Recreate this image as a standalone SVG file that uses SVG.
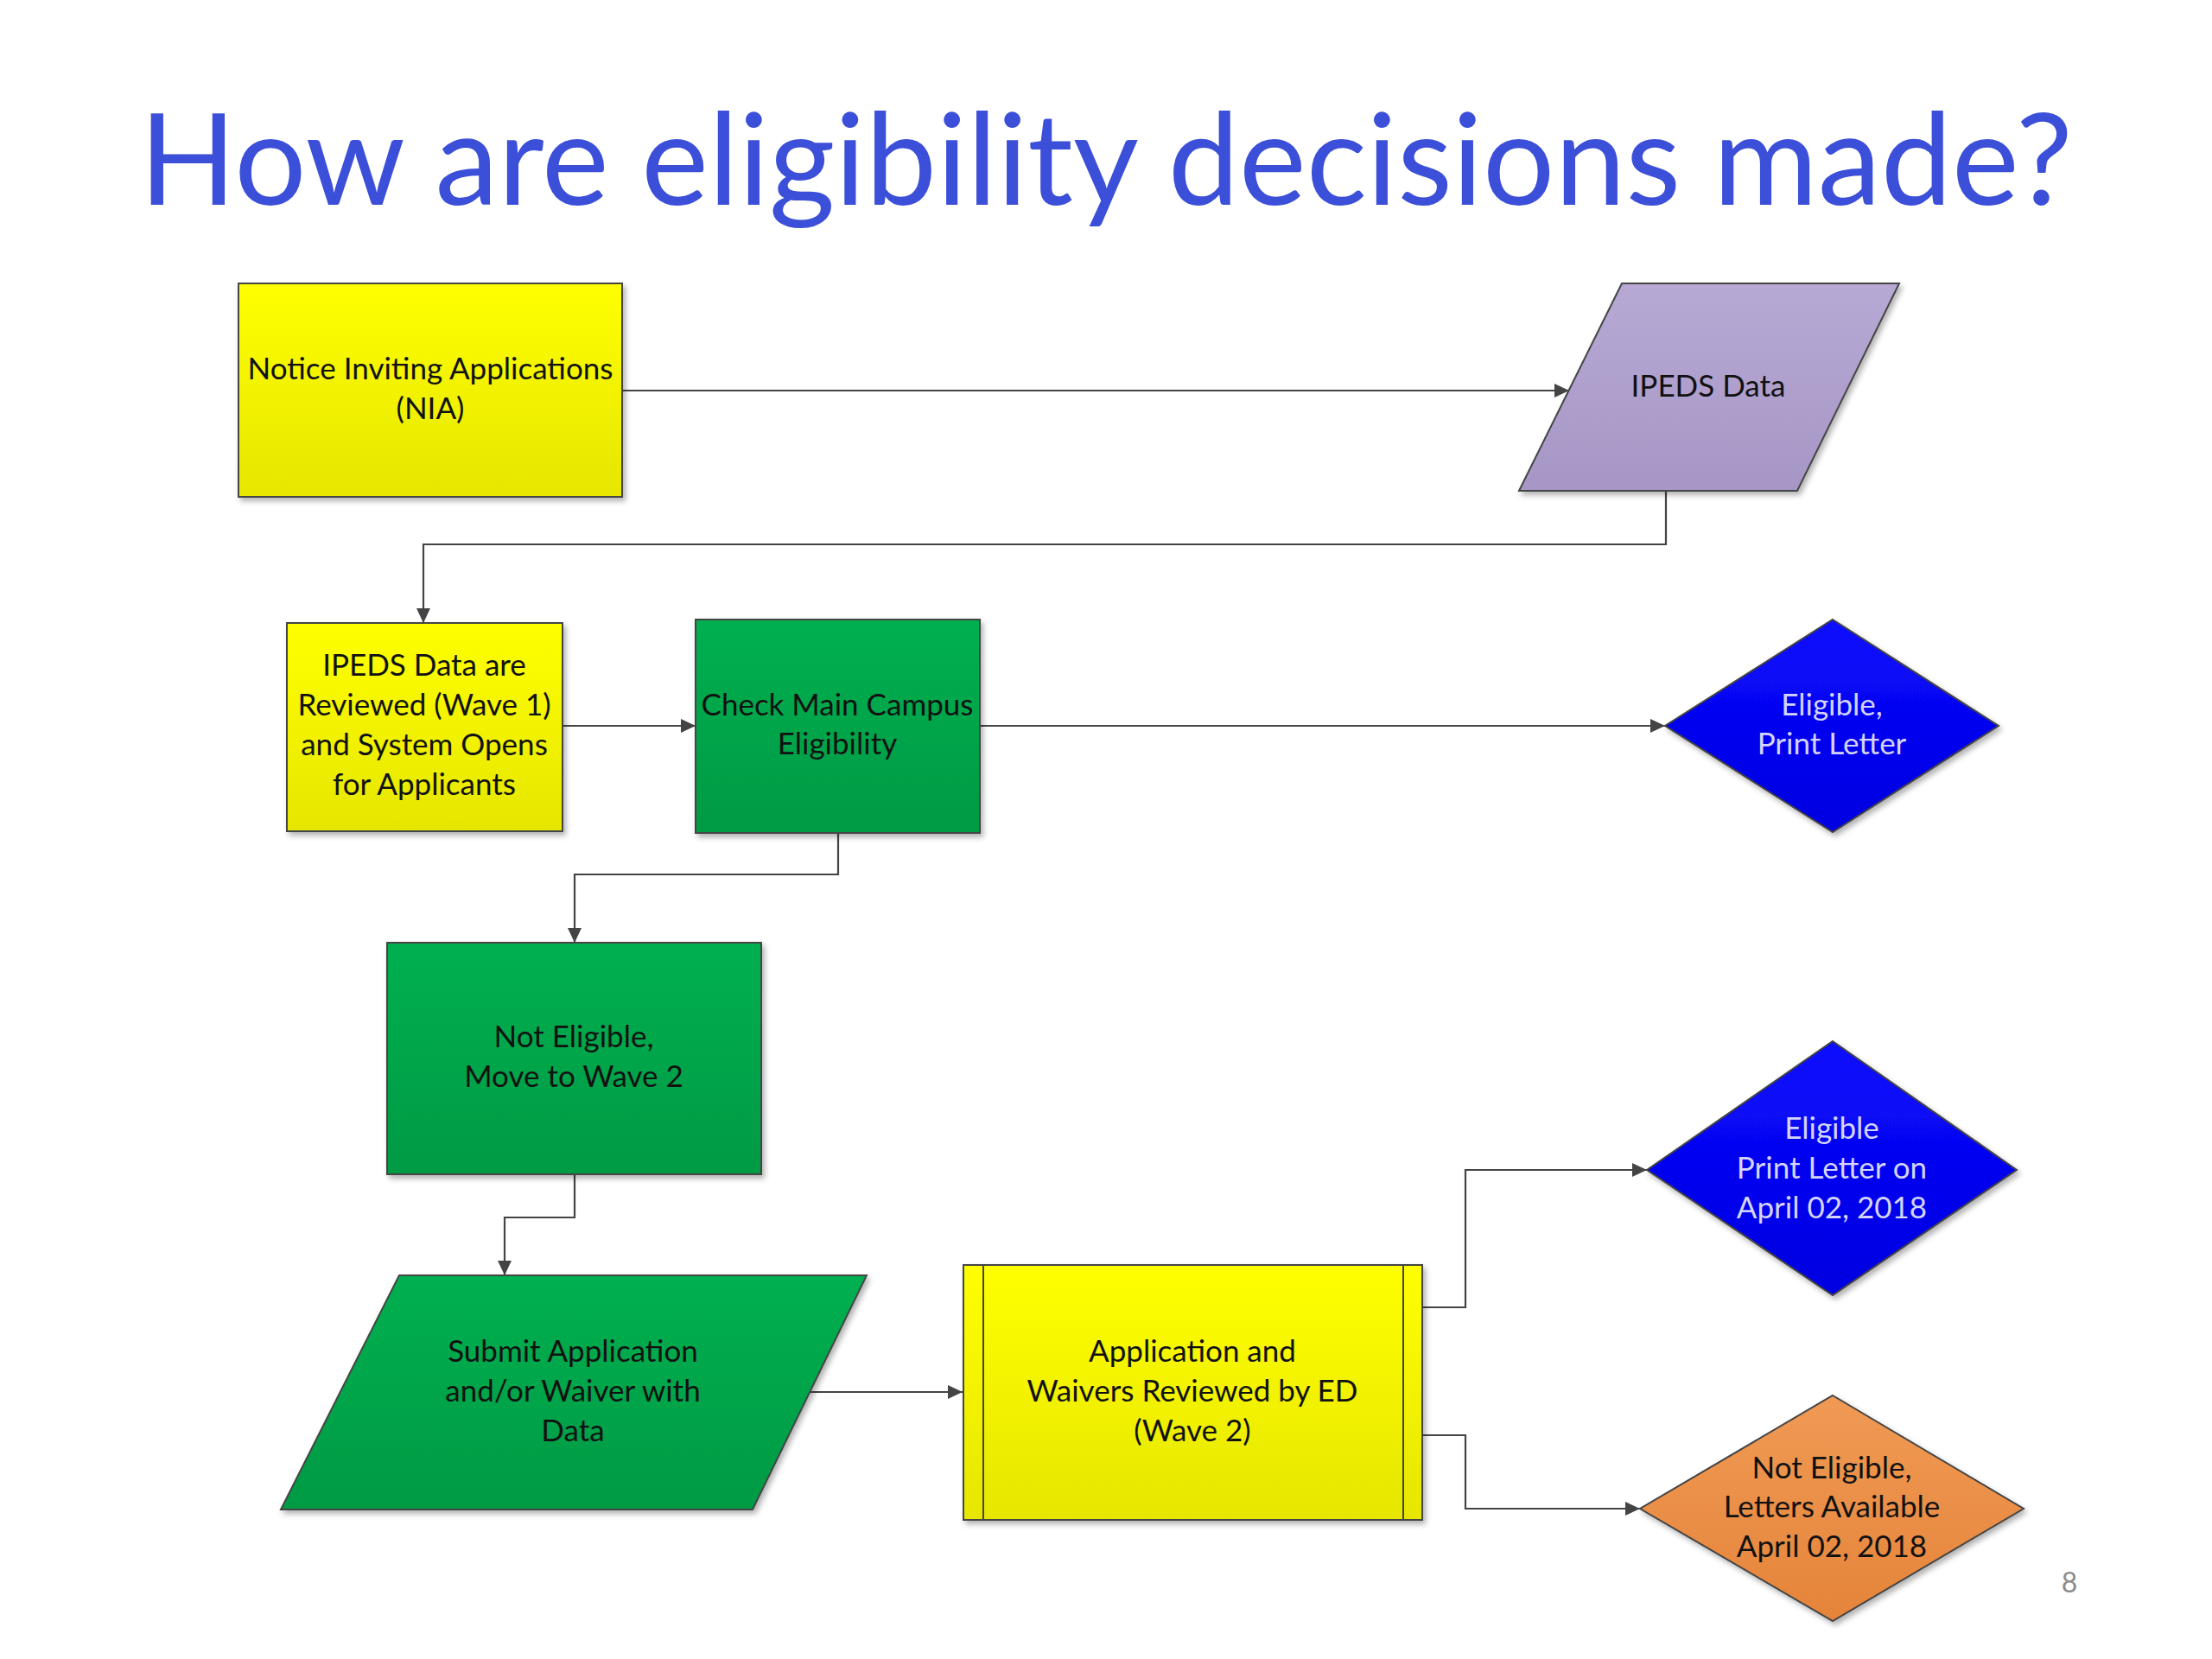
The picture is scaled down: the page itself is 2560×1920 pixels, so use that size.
<svg xmlns="http://www.w3.org/2000/svg" width="2560" height="1920" viewBox="0 0 2560 1920">
<style>
.t{font-family:Lato,"Liberation Sans",sans-serif;font-size:35px;text-anchor:middle;fill:#111}
.tw{font-family:Lato,"Liberation Sans",sans-serif;font-size:35px;text-anchor:middle;fill:#d4d4ff}
.sh{stroke:#444;stroke-width:2;filter:url(#ds)}
.c{fill:none;stroke:#444;stroke-width:2.2;marker-end:url(#ah)}
</style>
<defs>
<linearGradient id="gy" x1="0" y1="0" x2="0" y2="1"><stop offset="0" stop-color="#ffff00"/><stop offset="1" stop-color="#e6e600"/></linearGradient>
<linearGradient id="gg" x1="0" y1="0" x2="0" y2="1"><stop offset="0" stop-color="#00b050"/><stop offset="1" stop-color="#009a44"/></linearGradient>
<linearGradient id="gp" x1="0" y1="0" x2="0" y2="1"><stop offset="0" stop-color="#b7a9d4"/><stop offset="1" stop-color="#a696c6"/></linearGradient>
<linearGradient id="gb" x1="0" y1="0" x2="0" y2="1"><stop offset="0" stop-color="#0a0aff"/><stop offset="1" stop-color="#0000e0"/></linearGradient>
<linearGradient id="go" x1="0" y1="0" x2="0" y2="1"><stop offset="0" stop-color="#f09a55"/><stop offset="1" stop-color="#e5843a"/></linearGradient>
<filter id="ds" x="-10%" y="-10%" width="130%" height="130%"><feDropShadow dx="3" dy="4" stdDeviation="3" flood-color="#000" flood-opacity="0.3"/></filter>
<marker id="ah" markerUnits="userSpaceOnUse" markerWidth="18" markerHeight="16" refX="17" refY="8" orient="auto"><path d="M0,0 L17,8 L0,16 z" fill="#444"/></marker>
</defs>
<rect width="2560" height="1920" fill="#fff"/>
<text x="1280" y="237" font-family="Lato,'Liberation Sans',sans-serif" font-size="147" fill="#3b4fd9" text-anchor="middle">How are eligibility decisions made?</text>

<g id="connectors">
<path class="c" d="M720,452 H1816"/>
<path class="c" d="M1928,568 V630 H490 V721"/>
<path class="c" d="M651,840 H805"/>
<path class="c" d="M1134,840 H1927"/>
<path class="c" d="M970,964 V1012 H665 V1091"/>
<path class="c" d="M665,1359 V1409 H584 V1476"/>
<path class="c" d="M938,1611 H1114"/>
<path class="c" d="M1646,1513 H1696 V1354 H1906"/>
<path class="c" d="M1646,1661 H1696 V1746 H1898"/>
</g>

<g id="nia">
<rect class="sh" x="276" y="328" width="444" height="247" fill="url(#gy)"/>
<text class="t" x="498" y="439">Notice Inviting Applications</text>
<text class="t" x="498" y="485">(NIA)</text>
</g>
<g id="ipeds-data">
<polygon class="sh" points="1877,328 2198,328 2080,568 1758,568" fill="url(#gp)"/>
<text class="t" x="1977" y="459">IPEDS Data</text>
</g>
<g id="ipeds-reviewed">
<rect class="sh" x="332" y="721" width="319" height="241" fill="url(#gy)"/>
<text class="t" x="491" y="782">IPEDS Data are</text>
<text class="t" x="491" y="828">Reviewed (Wave 1)</text>
<text class="t" x="491" y="874">and System Opens</text>
<text class="t" x="491" y="920">for Applicants</text>
</g>
<g id="check-main">
<rect class="sh" x="805" y="717" width="329" height="247" fill="url(#gg)"/>
<text class="t" x="969" y="828">Check Main Campus</text>
<text class="t" x="969" y="873">Eligibility</text>
</g>
<g id="eligible-print">
<polygon class="sh" points="2121,717 2313,840 2121,963 1927,840" fill="url(#gb)"/>
<text class="tw" x="2120" y="828">Eligible,</text>
<text class="tw" x="2120" y="873">Print Letter</text>
</g>
<g id="not-eligible-wave2">
<rect class="sh" x="448" y="1091" width="433" height="268" fill="url(#gg)"/>
<text class="t" x="664" y="1212">Not Eligible,</text>
<text class="t" x="664" y="1258">Move to Wave 2</text>
</g>
<g id="submit">
<polygon class="sh" points="462,1476 1003,1476 871,1747 325,1747" fill="url(#gg)"/>
<text class="t" x="663" y="1576">Submit Application</text>
<text class="t" x="663" y="1622">and/or Waiver with</text>
<text class="t" x="663" y="1668">Data</text>
</g>
<g id="app-review">
<rect class="sh" x="1115" y="1464" width="531" height="295" fill="url(#gy)"/>
<line x1="1138" y1="1464" x2="1138" y2="1759" stroke="#444" stroke-width="2"/>
<line x1="1624" y1="1464" x2="1624" y2="1759" stroke="#444" stroke-width="2"/>
<text class="t" x="1380" y="1576">Application and</text>
<text class="t" x="1380" y="1622">Waivers Reviewed by ED</text>
<text class="t" x="1380" y="1668">(Wave 2)</text>
</g>
<g id="eligible-april">
<polygon class="sh" points="2121,1205 2334,1354 2121,1499 1906,1354" fill="url(#gb)"/>
<text class="tw" x="2120" y="1318">Eligible</text>
<text class="tw" x="2120" y="1364">Print Letter on</text>
<text class="tw" x="2120" y="1410">April 02, 2018</text>
</g>
<g id="not-eligible-april">
<polygon class="sh" points="2121,1615 2342,1746 2121,1876 1898,1746" fill="url(#go)"/>
<text class="t" x="2120" y="1711">Not Eligible,</text>
<text class="t" x="2120" y="1756">Letters Available</text>
<text class="t" x="2120" y="1802">April 02, 2018</text>
</g>
<text x="2395" y="1843" font-family="Lato,'Liberation Sans',sans-serif" font-size="32" fill="#8c8c8c" text-anchor="middle">8</text>
</svg>
